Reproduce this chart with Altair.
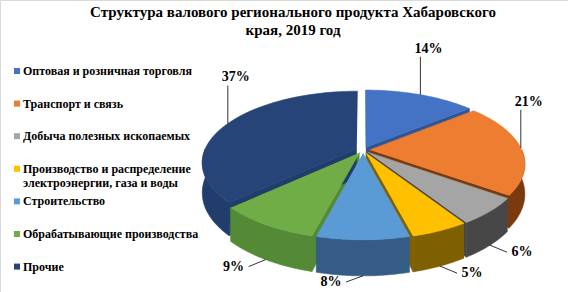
import altair as alt
import pandas as pd

# ---------------- data ----------------
CATEGORIES = [
    "Оптовая и розничная торговля",
    "Транспорт и связь",
    "Добыча полезных ископаемых",
    "Производство  и распределение\nэлектроэнергии, газа и воды",
    "Строительство",
    "Обрабатывающие производства",
    "Прочие",
]
VALUES = [14, 21, 6, 5, 8, 9, 37]
TITLE_LINES = ["Структура  валового регионального продукта Хабаровского", "края, 2019 год"]

# ---------------- style ----------------
TOP_COLORS = ["#4472C4", "#ED7D31", "#A5A5A5", "#FFC000", "#5B9BD5", "#70AD47", "#264478"]
SIDE_COLORS = ["#2F5597", "#7B3A0E", "#474747", "#7F6000", "#355C85", "#548A35", "#213D6C"]
SERIF = "Liberation Serif"

W, H = 568, 292
CX, CY = 363, 150          # projected pie centre
RX, RY = 152, 68.9         # half axes of the tilted disc
PERSP = 0.189              # perspective strength
DEPTH = 29                 # pie thickness
EXPLODE = 0.045            # slice separation (fraction of radius)
NSEG = 48

df = pd.DataFrame({"cat": CATEGORIES, "val": VALUES, "idx": list(range(len(VALUES)))})

XS = alt.Scale(domain=[0, W], nice=False, zero=False)
YS = alt.Scale(domain=[0, H], nice=False, zero=False, reverse=True)
TOP_SCALE = alt.Scale(domain=CATEGORIES, range=TOP_COLORS)
SIDE_SCALE = alt.Scale(domain=CATEGORIES, range=SIDE_COLORS)


def slices():
    return (
        alt.Chart(df)
        .transform_joinaggregate(total="sum(val)")
        .transform_window(cum="sum(val)", sort=[alt.SortField("idx", order="ascending")], frame=[None, 0])
        .transform_calculate(a="2*PI*(datum.cum - datum.val)/datum.total")
        .transform_calculate(b="2*PI*datum.cum/datum.total")
        .transform_calculate(m="(datum.a + datum.b)/2")
        .transform_calculate(ex=f"{EXPLODE}*sin(datum.m)")
        .transform_calculate(ev=f"-{EXPLODE}*cos(datum.m)")
    )


def project(ch, depth_expr="0"):
    return (
        ch.transform_calculate(s=f"1/(1 - {PERSP}*datum.V)")
        .transform_calculate(X=f"{CX} + {RX}*datum.U*datum.s")
        .transform_calculate(Y=f"{CY} + ({RY}*datum.V + ({depth_expr}))*datum.s")
    )


def poly_enc(scale, detail):
    return dict(
        x=alt.X("X:Q", scale=XS, axis=None),
        y=alt.Y("Y:Q", scale=YS, axis=None),
        order=alt.Order("k:Q"),
        detail=detail,
        fill=alt.Fill("cat:N", scale=scale, legend=None),
        stroke=alt.Stroke("cat:N", scale=scale, legend=None),
    )


# cut faces (radial sides visible through the gaps)
cuts = slices().transform_calculate(sides="[0, 1]").transform_flatten(["sides"], as_=["side"])
cuts = cuts.transform_filter("datum.side == 0 ? sin(datum.a) < -1e-6 : sin(datum.b) > 1e-6")
cuts = cuts.transform_calculate(e="datum.side == 0 ? datum.a : datum.b")
cuts = cuts.transform_calculate(pts="[0, 1, 2, 3]").transform_flatten(["pts"], as_=["k"])
cuts = cuts.transform_calculate(r="(datum.k == 1 || datum.k == 2) ? 1 : 0")
cuts = cuts.transform_calculate(U="datum.r*sin(datum.e) + datum.ex")
cuts = cuts.transform_calculate(V="-datum.r*cos(datum.e) + datum.ev")
cuts = project(cuts, f"datum.k >= 2 ? {DEPTH} : 0")
cuts = cuts.mark_line(strokeWidth=0.6).encode(**poly_enc(SIDE_SCALE, ["cat:N", "side:N"]))

# outer walls (front half only)
walls = slices().transform_calculate(a2="max(datum.a, PI/2)").transform_calculate(b2="min(datum.b, 3*PI/2)")
walls = walls.transform_filter("datum.a2 < datum.b2")
walls = walls.transform_calculate(pts=f"sequence(0, {2 * NSEG + 2})").transform_flatten(["pts"], as_=["k"])
walls = walls.transform_calculate(top=f"datum.k <= {NSEG}")
walls = walls.transform_calculate(
    t=f"datum.top ? datum.a2 + (datum.b2 - datum.a2)*datum.k/{NSEG} : datum.b2 - (datum.b2 - datum.a2)*(datum.k - {NSEG + 1})/{NSEG}"
)
walls = walls.transform_calculate(U="sin(datum.t) + datum.ex").transform_calculate(V="-cos(datum.t) + datum.ev")
walls = project(walls, f"datum.top ? 0 : {DEPTH}")
walls = walls.mark_line(strokeWidth=0.6).encode(**poly_enc(SIDE_SCALE, "cat:N"))

# top faces
tops = slices().transform_calculate(pts=f"sequence(0, {NSEG + 2})").transform_flatten(["pts"], as_=["k"])
tops = tops.transform_calculate(t=f"datum.a + (datum.b - datum.a)*(datum.k - 1)/{NSEG}")
tops = tops.transform_calculate(r="datum.k == 0 ? 0 : 1")
tops = tops.transform_calculate(U="datum.r*sin(datum.t) + datum.ex").transform_calculate(V="-datum.r*cos(datum.t) + datum.ev")
tops = project(tops)
tops = tops.mark_line(strokeWidth=0.6).encode(**poly_enc(TOP_SCALE, "cat:N"))

# data labels with leader lines
lab = slices().transform_calculate(back="cos(datum.m) > 0")
lab = lab.transform_calculate(U=f"{1 + EXPLODE}*sin(datum.m)").transform_calculate(V=f"-{1 + EXPLODE}*cos(datum.m)")
lab = project(lab, f"datum.back ? 0 : {DEPTH}")
lab = lab.transform_calculate(sg="sin(datum.m) > 0.05 ? 1 : -1")
lab = lab.transform_calculate(LX="datum.back ? datum.X + 8 : datum.X + datum.sg*32")
lab = lab.transform_calculate(LY="datum.back ? datum.Y - 46 : min(datum.Y + 7, 282)")
lab = lab.transform_calculate(EX="datum.back ? datum.X : datum.X + datum.sg*17")
lab = lab.transform_calculate(EY="datum.back ? datum.Y - 38 : datum.LY")
lab = lab.transform_calculate(txt="datum.val + '%'")

leaders = lab.mark_rule(color="black", strokeWidth=0.8).encode(
    x=alt.X("X:Q", scale=XS, axis=None), y=alt.Y("Y:Q", scale=YS, axis=None), x2="EX:Q", y2="EY:Q"
)
labels = lab.mark_text(font=SERIF, fontSize=14, fontWeight="bold", align="center", baseline="middle", color="black").encode(
    x=alt.X("LX:Q", scale=XS, axis=None), y=alt.Y("LY:Q", scale=YS, axis=None), text="txt:N"
)

# legend (left column)
leg = alt.Chart(df).transform_calculate(ly="71 + 32.6*datum.idx")
squares = leg.mark_square(size=36, opacity=1).encode(
    x=alt.value(17), y=alt.Y("ly:Q", scale=YS, axis=None), fill=alt.Fill("cat:N", scale=TOP_SCALE, legend=None)
)
leg_text = leg.mark_text(
    font=SERIF, fontSize=12, fontWeight="bold", align="left", baseline="alphabetic", dy=4,
    lineBreak="\n", lineHeight=14, color="black",
).encode(x=alt.value(23), y=alt.Y("ly:Q", scale=YS, axis=None), text="cat:N")

# title
title = alt.Chart(pd.DataFrame({"t": ["\n".join(TITLE_LINES)]})).mark_text(
    font=SERIF, fontSize=15, fontWeight="bold", align="center", baseline="top", lineBreak="\n", lineHeight=18, color="black"
).encode(x=alt.value(293), y=alt.value(5), text="t:N")

chart = (
    alt.layer(cuts, walls, tops, leaders, labels, squares, leg_text, title)
    .resolve_scale(fill="independent", stroke="independent")
    .properties(width=W, height=H, padding=0, autosize="none", background="white")
    .configure_view(stroke="#D9D9D9", strokeWidth=1)
)

chart.save("out.html", embed_options={"renderer": "svg", "actions": False})
